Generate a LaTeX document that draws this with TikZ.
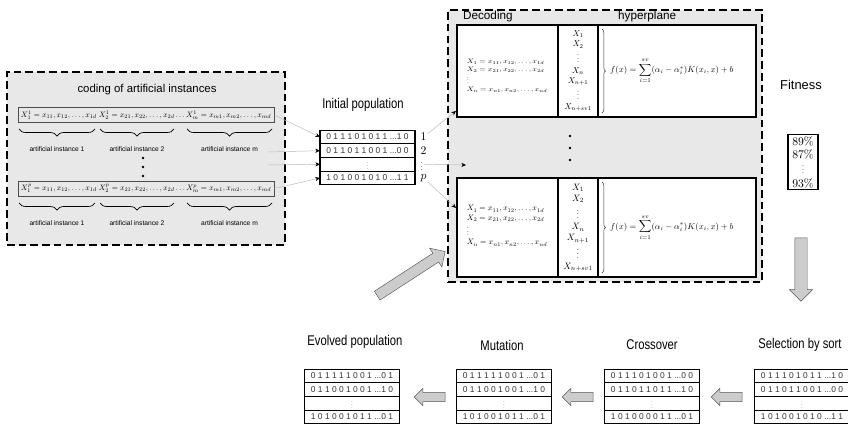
\documentclass[tikz,border=0pt]{standalone}
\usepackage{amsmath}
\usepackage{graphicx}
\usepackage{fontspec}
\setsansfont{Liberation Sans}
\newfontfamily\narrowfont[FakeStretch=0.8]{Liberation Sans}
\usetikzlibrary{positioning}
\usetikzlibrary{arrows.meta}
\usetikzlibrary{shapes.arrows}
\usetikzlibrary{decorations.pathreplacing}
\newcommand{\bitdots}{...}
\newcommand{\smallvdots}{\scalebox{0.55}{$\vdots$}}
\tikzset{
panel/.style={draw,line width=2.4pt,dash pattern=on 6.5pt off 3.5pt,fill=gray!18},
codebox/.style={draw=gray!60!black,semithick,inner sep=0pt,minimum width=7.68cm,minimum height=0.45cm},
codebrace/.style={decorate,decoration={brace,amplitude=6pt},semithick},
hypbrace/.style={decorate,decoration={brace,amplitude=3pt},gray!40!black},
tag/.style={font=\sffamily\fontsize{5.7}{6}\selectfont},
bitrow/.style={draw,line width=0.9pt,fill=white,minimum width=2.85cm,minimum height=0.41cm,inner sep=0pt,outer sep=0pt,font=\sffamily\fontsize{7.2}{8}\selectfont,text=black!80},
poptitle/.style={font=\narrowfont\fontsize{12}{14}\selectfont},
sanslabel/.style={font=\sffamily\fontsize{10}{11}\selectfont},
decbox/.style={draw,line width=1.6pt,fill=white,inner sep=0pt},
feed/.style={gray!55,thin,-{Stealth[black,length=4pt,width=3.5pt]}},
bigarrow/.style={single arrow,draw=black!65,fill=gray!40,inner xsep=0pt},
dot/.style={circle,fill=black,inner sep=0pt,minimum size=2.5pt}
}
\begin{document}
\begin{tikzpicture}[x=0.03cm,y=-0.03cm]
  \useasboundingbox (0,0) rectangle (848,428);
  \newcommand{\xrow}[1]{$X^{#1}_1 = x_{11}, x_{12}, \ldots, x_{1d}\; X^{#1}_2 = x_{21}, x_{22}, \ldots, x_{2d} \ldots X^{#1}_m = x_{m1}, x_{m2}, \ldots, x_{md}$}
  \newcommand{\xlist}{$\begin{array}{l} X_1 = x_{11}, x_{12}, \ldots, x_{1d}\\ X_2 = x_{21}, x_{22}, \ldots, x_{2d}\\ \vdots\\ X_n = x_{n1}, x_{n2}, \ldots, x_{nd}\end{array}$}
  \newcommand{\svlist}{$\begin{array}{c} X_1\\ X_2\\ \vdots\\ X_n\\ X_{n+1}\\ \vdots\\ X_{n+sv1}\end{array}$}
  \newcommand{\hyper}{$\displaystyle f(x)=\sum_{i=1}^{sv}(\alpha_i-\alpha_i^*)K(x_i,x)+b$}
  % coding of artificial instances
  \node[panel,minimum width=8.34cm,minimum height=5.19cm](coding) at (146,158.5) {};
  \node[font=\sffamily\fontsize{9.7}{11}\selectfont](codetitle) at (147,90) {coding of artificial instances};
  \node[codebox](code1) at (146,115) {\resizebox{7.5cm}{!}{\xrow{1}}};
  \node[codebox](codep) at (146,188.5) {\resizebox{7.5cm}{!}{\xrow{p}}};
  \foreach \row/\yb/\yl in {1/129/149,p/203/223}
    \foreach \xa/\xb/\k in {19/95/1,100/174/2,187/272/m} {
      \draw[codebrace] (\xb,\yb) -- (\xa,\yb);
      \node[tag](inst-\row-\k) at ({(\xa+\xb)/2},\yl) {artificial instance \k};
    }
  \foreach \y [count=\i] in {158,167,176}
    \node[dot](cdot\i) at (143,\y) {};
  %
  % initial population
  \node[poptitle](poplab) at (363,105) {Initial population};
  \node[bitrow](ipop1) at (367.5,137) {0 1 1 1 0 1 0 1 1 \bitdots1 0};
  \node[bitrow,below=0pt of ipop1](ipop2) {0 1 1 0 1 1 0 0 1 \bitdots0 0};
  \node[bitrow,below=0pt of ipop2](ipop3) {\smallvdots};
  \node[bitrow,below=0pt of ipop3](ipop4) {1 0 1 0 0 1 0 1 0 \bitdots1 1};
  \node[right=3.5pt of ipop1,inner sep=1pt](n1) {1};
  \node[right=3.5pt of ipop2,inner sep=1pt](n2) {2};
  \node[right=3.5pt of ipop3,inner sep=1pt](n3) {\scalebox{0.75}{$\vdots$}};
  \node[right=3.5pt of ipop4,inner sep=1pt](n4) {$p$};
  \coordinate (c2) at (268,152);
  \coordinate (c3) at (268,165);
  \draw[feed] (code1.east) -- (ipop1.west);
  \draw[feed] (c2) -- (ipop2.west);
  \draw[feed] (c3) -- (ipop3.west);
  \draw[feed] (codep.east) -- (ipop4.west);
  %
  % decoding and hyperplane
  \node[panel,minimum width=9.42cm,minimum height=8.16cm](decoding) at (605,146) {};
  \node[sanslabel,anchor=west](declab) at (459,16) {Decoding};
  \node[sanslabel,anchor=west](hyplab) at (614,16) {hyperplane};
  \node[decbox,minimum width=8.97cm,minimum height=2.76cm](dec1) at (606.5,71) {};
  \node[decbox,minimum width=1.2cm,minimum height=2.76cm](col1) at (578,71) {\resizebox*{!}{2.5cm}{\svlist}};
  \node(xs1) at (507,76) {\resizebox*{2.65cm}{1.05cm}{\xlist}};
  \draw[hypbrace] (602,29) -- (602,113);
  \node[anchor=west](fx1) at (606,71) {\resizebox*{3.7cm}{0.75cm}{\hyper}};
  \node[decbox,minimum width=8.97cm,minimum height=2.97cm](dec2) at (606.5,227.5) {};
  \node[decbox,minimum width=1.2cm,minimum height=2.97cm](col2) at (578,227.5) {\resizebox*{!}{2.7cm}{\svlist}};
  \node(xs2) at (507,226) {\resizebox*{2.65cm}{1.3cm}{\xlist}};
  \draw[hypbrace] (602,182) -- (602,273);
  \node[anchor=west](fx2) at (606,227.5) {\resizebox*{3.7cm}{0.75cm}{\hyper}};
  \foreach \y [count=\i] in {136,148,160}
    \node[dot](mdot\i) at (570,\y) {};
  \coordinate (dec1in) at (456,111);
  \coordinate (midin) at (466,165);
  \coordinate (dec2in) at (456,208);
  \draw[feed] (n1) -- (dec1in);
  \draw[feed] (n3) -- (midin);
  \draw[feed] (n4) -- (dec2in);
  %
  % fitness
  \node[font=\sffamily\fontsize{11}{12}\selectfont](fitlab) at (801,85) {Fitness};
  \node[draw,line width=1.3pt,inner sep=1.5pt,minimum width=0.9cm,align=center,font=\fontsize{10}{11.5}\selectfont](fit) at (803,162) {89\%\\87\%\\\scalebox{0.75}{$\vdots$}\\93\%};
  \node[bigarrow,rotate=-90,minimum height=1.9cm,inner ysep=0.18cm,single arrow head extend=0.16cm](down) at (801,266.5) {};
  \node[bigarrow,rotate=33,minimum height=2.43cm,inner ysep=0.15cm,single arrow head extend=0.18cm](back) at (409,275) {};
  %
  % genetic operators
  \foreach \tbl/\cx/\ra/\rb/\rd in {
    evo/352/0 1 1 1 1 1 0 0 1 \bitdots0 1/0 1 1 0 0 1 0 0 1 \bitdots1 0/1 0 1 0 0 1 0 1 1 \bitdots0 1,
    mut/504/0 1 1 1 1 1 0 0 1 \bitdots0 1/0 1 1 0 0 1 0 0 1 \bitdots1 0/1 0 1 0 0 1 0 1 1 \bitdots0 1,
    cro/652/0 1 1 1 0 1 0 0 1 \bitdots0 0/0 1 1 0 1 1 0 1 1 \bitdots1 0/1 0 1 0 0 0 0 1 1 \bitdots0 1,
    sel/802/0 1 1 1 0 1 0 1 1 \bitdots1 0/0 1 1 0 1 1 0 0 1 \bitdots0 0/1 0 1 0 0 1 0 1 0 \bitdots1 1} {
    \node[bitrow](\tbl1) at (\cx,376) {\ra};
    \node[bitrow,below=0pt of \tbl1](\tbl2) {\rb};
    \node[bitrow,below=0pt of \tbl2](\tbl3) {\smallvdots};
    \node[bitrow,below=0pt of \tbl3](\tbl4) {\rd};
  }
  \node[poptitle](evolab) at (355,342) {Evolved population};
  \node[poptitle](mutlab) at (502,345) {Mutation};
  \node[poptitle](crolab) at (652,345) {Crossover};
  \node[poptitle](sellab) at (800,345) {Selection by sort};
  \foreach \x/\name in {432/toevo,580/tomut,729/tocro}
    \node[bigarrow,rotate=180,minimum height=0.93cm,inner ysep=0.13cm,single arrow head extend=0.12cm](\name) at (\x,397) {};
\end{tikzpicture}
\end{document}
